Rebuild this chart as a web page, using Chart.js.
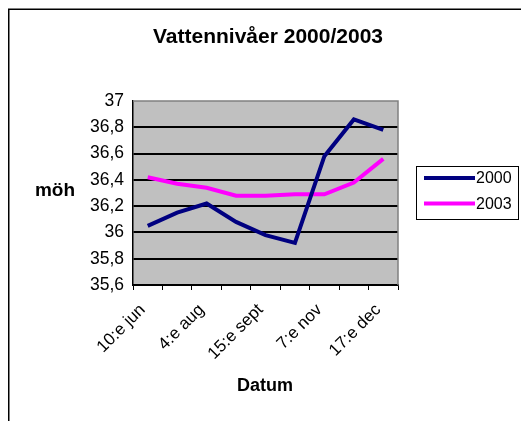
<!DOCTYPE html>
<html>
<head>
<meta charset="utf-8">
<script src="https://cdn.jsdelivr.net/npm/chart.js@4/dist/chart.umd.min.js"></script>
<style>
  html, body { margin: 0; padding: 0; background: #fff; }
  #wrap { width: 521px; height: 421px; }
</style>
</head>
<body>
<div id="wrap"><canvas id="myChart" width="521" height="421"></canvas></div>
<script>
// categories (only every other date is printed on the axis)
const dates = ["10:e jun", "", "4:e aug", "", "15:e sept", "", "7:e nov", "", "17:e dec"];
const level2000 = [36.05, 36.15, 36.22, 36.08, 35.98, 35.92, 36.58, 36.86, 36.78];
const level2003 = [36.42, 36.37, 36.34, 36.28, 36.28, 36.29, 36.29, 36.38, 36.56];
const yMin = 35.6;
const yMax = 37;
const yStep = 0.2;

const chartTitle = "Vattennivåer 2000/2003";
const yTitle = "möh";
const xTitle = "Datum";

const FONT = "'Liberation Sans', Arial, sans-serif";

// draws the excel-like frame, gray plot area, axis titles and boxed legend
const excelLook = {
  id: "excelLook",
  beforeDraw(chart) {
    const ctx = chart.ctx;
    const a = chart.chartArea;
    ctx.save();
    ctx.fillStyle = "#fff";
    ctx.fillRect(0, 0, chart.width, chart.height);
    ctx.fillStyle = "#c0c0c0";
    ctx.fillRect(a.left, a.top, a.right - a.left, a.bottom - a.top);
    ctx.restore();
  },
  afterDatasetsDraw(chart) {
    const ctx = chart.ctx;
    const a = chart.chartArea;
    ctx.save();

    // outer chart border (only top and left visible)
    ctx.strokeStyle = "#000";
    ctx.lineWidth = 1.5;
    ctx.beginPath();
    ctx.moveTo(8.75, chart.height);
    ctx.lineTo(8.75, 9.25);
    ctx.lineTo(chart.width, 9.25);
    ctx.stroke();

    // right and top plot border in gray
    ctx.strokeStyle = "#808080";
    ctx.lineWidth = 1.5;
    ctx.beginPath();
    ctx.moveTo(a.left, a.top);
    ctx.lineTo(a.right, a.top);
    ctx.lineTo(a.right, a.bottom);
    ctx.stroke();

    // titles
    ctx.fillStyle = "#000";
    ctx.textAlign = "center";
    ctx.textBaseline = "middle";
    ctx.font = "bold 21px " + FONT;
    ctx.fillText(chartTitle, 268, 37);
    ctx.font = "bold 18px " + FONT;
    ctx.fillText(xTitle, 265, 386);
    ctx.font = "bold 19px " + FONT;
    ctx.fillText(yTitle, 55, 191);

    // legend box
    ctx.strokeStyle = "#000";
    ctx.lineWidth = 1;
    ctx.strokeRect(416.5, 166.5, 102, 53);
    ctx.font = "16px " + FONT;
    ctx.textAlign = "left";
    chart.data.datasets.forEach((ds, i) => {
      const y = 178 + i * 25.5;
      ctx.strokeStyle = ds.borderColor;
      ctx.lineWidth = 4;
      ctx.beginPath();
      ctx.moveTo(424, y);
      ctx.lineTo(475, y);
      ctx.stroke();
      ctx.fillStyle = "#000";
      ctx.fillText(ds.label, 476, y + 1);
    });
    ctx.restore();
  },
};

let myChart = null;

function createChart() {
  const config = {
    type: "line",
    data: {
      labels: dates,
      datasets: [
        {
          label: "2000",
          data: level2000,
          borderColor: "#000080",
          borderWidth: 4,
          pointRadius: 0,
          tension: 0,
        },
        {
          label: "2003",
          data: level2003,
          borderColor: "#ff00ff",
          borderWidth: 4,
          pointRadius: 0,
          tension: 0,
        },
      ],
    },
    options: {
      responsive: false,
      animation: false,
      layout: {
        padding: { left: 0, top: 101, right: 123, bottom: 0 },
      },
      plugins: {
        legend: { display: false },
        title: { display: false },
        tooltip: { enabled: false },
      },
      scales: {
        x: {
          offset: true,
          grid: {
            offset: true,
            drawOnChartArea: false,
            color: "#000",
            tickLength: 5,
          },
          border: { color: "#000", width: 1.5 },
          ticks: {
            autoSkip: false,
            minRotation: 45,
            maxRotation: 45,
            color: "#000",
            padding: 10,
            labelOffset: -5,
            font: { family: FONT, size: 17 },
          },
          afterFit: (scale) => {
            scale.height = 421 - 285;
          },
        },
        y: {
          min: yMin,
          max: yMax,
          grid: {
            color: (c) => (c.tick && c.tick.value >= yMax ? "rgba(0,0,0,0)" : "#000"),
            lineWidth: 2,
            drawTicks: false,
          },
          border: { color: "#000", width: 1.5 },
          ticks: {
            stepSize: yStep,
            color: "#000",
            padding: 9,
            font: { family: FONT, size: 17.5 },
            callback: (v) => Number(v.toFixed(1)).toString().replace(".", ","),
          },
          afterFit: (scale) => {
            scale.width = 133;
          },
        },
      },
    },
    plugins: [excelLook],
  };

  if (myChart) {
    myChart.destroy();
  }
  myChart = new Chart(document.getElementById("myChart"), config);
}

createChart();
</script>
</body>
</html>
